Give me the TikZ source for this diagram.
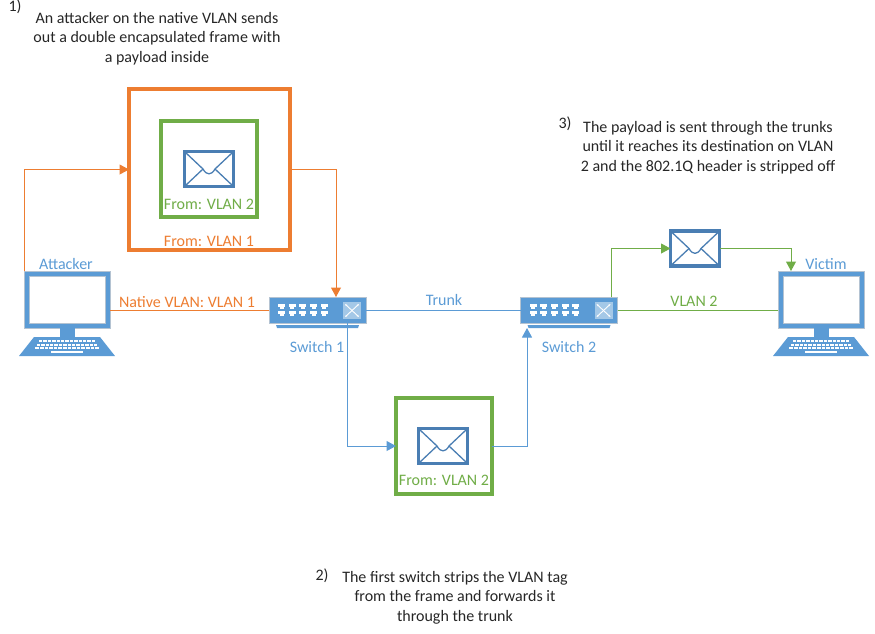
\documentclass[tikz,border=0pt]{standalone}
\usepackage{fontspec}
\setmainfont{Carlito}
\usetikzlibrary{arrows.meta,calc}
\definecolor{cOrange}{HTML}{ED7D31}
\definecolor{cGreen}{HTML}{70AD47}
\definecolor{cBlue}{HTML}{5B9BD5}
\definecolor{cDark}{HTML}{4A7EB3}
\definecolor{cEdge}{HTML}{B4C3D2}
\tikzset{
  every node/.style={outer sep=0pt,inner sep=0pt},
  lbl/.style={font=\fontsize{16}{19.5}\selectfont,align=center},
  bluetxt/.style={lbl,text=cBlue},
  orangetxt/.style={lbl,text=cOrange},
  greentxt/.style={lbl,text=cGreen},
  note/.style={lbl,text=black!85},
  framebox/.style={draw=#1,line width=4pt,fill=white,minimum width=96pt,minimum height=96pt},
  envbox/.style={draw=cDark,line width=3.4pt,fill=white,minimum width=49pt,minimum height=35pt},
  monitor/.style={draw=cEdge,line width=0.8pt,fill=cBlue,minimum width=86pt,minimum height=57pt},
  swbody/.style={draw=cEdge,line width=0.8pt,fill=cBlue,minimum width=97pt,minimum height=26pt},
  arr/.style={-{Triangle[length=9.5pt,width=10pt]}},
  conO/.style={draw=cOrange,line width=1pt},
  conB/.style={draw=cBlue,line width=1pt},
  conG/.style={draw=cGreen,line width=1pt},
}
% flap of an envelope node
\newcommand\envdetail[1]{%
  \draw[cDark,line width=1.3pt,line join=round]
    ($(#1.north west)+(1,1)$) -- ($(#1.center)+(-6,0)$)
    .. controls ($(#1.center)+(-2.5,6.5)$) and ($(#1.center)+(2.5,6.5)$) .. ($(#1.center)+(6,0)$)
    -- ($(#1.north east)+(-1,1)$);
  \draw[cDark,line width=1.3pt]
    ($(#1.south west)+(1,-1)$) -- ($(#1.center)+(-6,0)$)
    ($(#1.south east)+(-1,-1)$) -- ($(#1.center)+(6,0)$);
}
% screen, stand and keyboard of a computer node
\newcommand\pcdetail[1]{%
  \fill[white,draw=cEdge,line width=0.8pt] ($(#1.north west)+(5,5)$) rectangle ($(#1.south east)+(-5,-5)$);
  \fill[cBlue] ($(#1.south)+(-7.5,0)$) rectangle ($(#1.south)+(7.5,9)$);
  \fill[cBlue] ($(#1.south)+(-33,9)$) -- ($(#1.south)+(33,9)$) -- ($(#1.south)+(48,28)$) -- ($(#1.south)+(-48,28)$) -- cycle;
  \foreach \r/\w/\n in {12/3.4/13,15.5/3.4/14,19/3.6/14}{
    \foreach \k in {1,...,\n}{
      \fill[white] ($(#1.south)+({(\k-(\n+1)/2)*(\w+1)-\w/2},\r)$) rectangle +(\w,2);
    }
  }
  \fill[white] ($(#1.south)+(-16,23)$) rectangle ($(#1.south)+(16,25)$);
}
% base, ports and crossed-arrows square of a switch node
\newcommand\swdetail[1]{%
  \fill[cBlue] ($(#1.south west)+(7,2)$) -- ($(#1.south east)+(-7,2)$) -- ($(#1.south east)+(-8,5)$) -- ($(#1.south west)+(8,5)$) -- cycle;
  \foreach \k in {0,...,4}{
    \foreach \r in {6.5,14}{
      \fill[white] ($(#1.north west)+(9+\k*10.7,\r)$) rectangle +(7,3);
      \fill[white] ($(#1.north west)+(10.5+\k*10.7,\r+3)$) rectangle +(4,2);
    }
  }
  \fill[white,fill opacity=0.45] ($(#1.north east)+(-23,5)$) rectangle ($(#1.north east)+(-5,22)$);
  \draw[white,line width=0.9pt,{Stealth[length=2.5pt]}-{Stealth[length=2.5pt]}] ($(#1.north east)+(-21,7)$) -- ($(#1.north east)+(-7,20)$);
  \draw[white,line width=0.9pt,{Stealth[length=2.5pt]}-{Stealth[length=2.5pt]}] ($(#1.north east)+(-21,20)$) -- ($(#1.north east)+(-7,7)$);
}
\begin{document}
\begin{tikzpicture}[x=1pt,y=-1pt]
\useasboundingbox (0,0) rectangle (875,633);

% shapes
\node[framebox=cOrange,minimum width=161pt,minimum height=161pt] (outer) at (209.5,169.5) {};
\node[framebox=cGreen] (inner) at (209,169) {};
\node[envbox] (env1) at (209,169) {};
\envdetail{env1}
\node[framebox=cGreen] (mid) at (444,446) {};
\node[envbox] (env2) at (443,446) {};
\envdetail{env2}
\node[envbox] (env3) at (695,248.5) {};
\envdetail{env3}

\node[monitor] (att) at (67,299.5) {};
\pcdetail{att}
\node[monitor] (vic) at (821,299.5) {};
\pcdetail{vic}
\node[swbody] (sw1) at (317.5,310) {};
\swdetail{sw1}
\node[swbody] (sw2) at (569,310) {};
\swdetail{sw2}

% connectors
\coordinate (sw1top) at (336,297);
\coordinate (sw1bot) at (347.5,323);
\coordinate (sw2bot) at (527,328);
\coordinate (sw2top) at (611,297);
\coordinate (victop) at (791,271);
\draw[conO,arr] (att.north west) |- (outer.west);
\draw[conO,arr] (outer.east) -| (sw1top);
\draw[conO] (att.east |- sw1.west) -- (sw1.west);
\draw[conB] (sw1.east) -- (sw2.west);
\draw[conB,arr] (sw1bot) |- (mid.west);
\draw[conB,arr] (mid.east) -| (sw2bot);
\draw[conG,arr] (sw2top) |- (env3.west);
\draw[conG,arr] (env3.east) -| (victop);
\draw[conG] (sw2.east) -- (vic.west |- sw2.east);

% labels
\node[greentxt] (t1) at (209,204) {From: VLAN 2};
\node[orangetxt] (t2) at (209,241) {From: VLAN 1};
\node[greentxt] (t3) at (444,480) {From: VLAN 2};
\node[bluetxt] (t4) at (66,264) {Attacker};
\node[bluetxt] (t5) at (826,264) {Victim};
\node[orangetxt] (t6) at (187,302) {Native VLAN: VLAN 1};
\node[bluetxt] (t7) at (444,300) {Trunk};
\node[greentxt] (t8) at (694,301) {VLAN 2};
\node[bluetxt] (t9) at (317,347) {Switch 1};
\node[bluetxt] (t10) at (569,347) {Switch 2};

\node[note] (n1) at (15,7) {1)};
\node[note] (n1t) at (157,38.5) {An attacker on the native VLAN sends\\out a double encapsulated frame with\\a payload inside};
\node[note] (n2) at (322,576) {2)};
\node[note] (n2t) at (455,597.5) {The first switch strips the VLAN tag\\from the frame and forwards it\\through the trunk};
\node[note] (n3) at (565,124) {3)};
\node[note] (n3t) at (708,147.5) {The payload is sent through the trunks\\until it reaches its destination on VLAN\\2 and the 802.1Q header is stripped off};
\end{tikzpicture}
\end{document}
